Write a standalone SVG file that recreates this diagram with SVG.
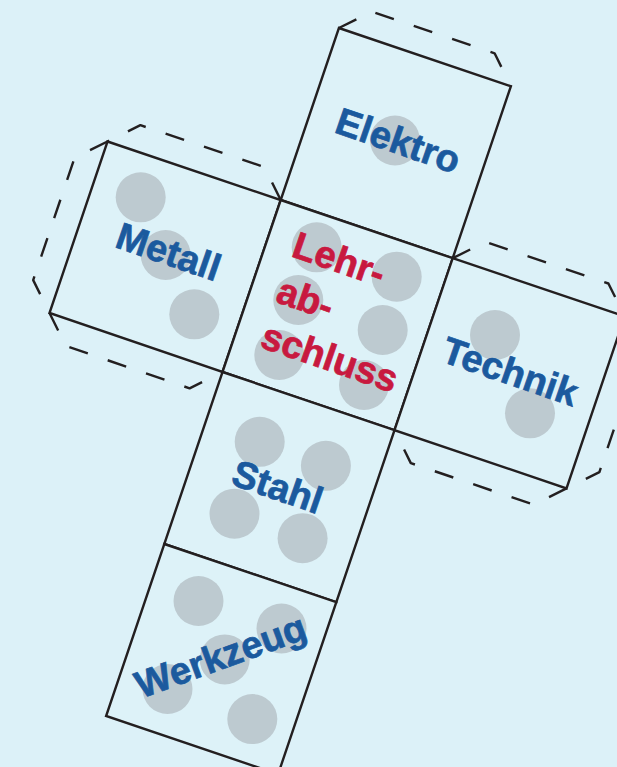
<svg xmlns="http://www.w3.org/2000/svg" width="617" height="767" viewBox="0 0 617 767">
  <style>
    .face { fill: #ddf2f8; stroke: #231f20; stroke-width: 2.4; stroke-linejoin: miter; }
    .flap { fill: none; stroke: #231f20; stroke-width: 2.4; stroke-dasharray: 19.5 21; stroke-linejoin: round; }
    .dot { fill: #bdcad0; }
    .lbl { font-family: "Liberation Sans", Arial, sans-serif; font-weight: bold; font-size: 38px; text-anchor: middle; fill: #1b5a9e; stroke: #1b5a9e; stroke-width: 0.7; }
    .main { font-family: "Liberation Sans", Arial, sans-serif; font-weight: bold; font-size: 38px; fill: #c8193f; stroke: #c8193f; stroke-width: 0.7; }
  </style>
  <rect x="0" y="0" width="617" height="767" fill="#dcf1f8"/>

  <g id="flaps">
    <path class="flap" d="M338.9,28 L371.8,11.7 L494.6,53.3 L510.9,86.2"/>
    <path class="flap" d="M280.7,200 L264.4,167.1 L140.4,125.2 L107.5,141.5"/>
    <path class="flap" d="M107.5,141.5 L74.6,157.8 L33.2,280.1 L49.5,313"/>
    <path class="flap" d="M49.5,313 L65.8,345.9 L189.6,388.3 L222.5,372"/>
    <path class="flap" d="M452.7,258.2 L485.6,241.9 L608.4,283.5 L624.7,316.4"/>
    <path class="flap" d="M624.7,316.4 L641,349.3 L599.4,472.1 L566.5,488.4"/>
    <path class="flap" d="M566.5,488.4 L533.6,504.7 L410.8,463.1 L394.5,430.2"/>
  </g>

  <g id="elektro">
    <polygon class="face" points="338.9,28 510.9,86.2 452.7,258.2 280.7,200"/>
    <circle class="dot" cx="395" cy="140.5" r="25"/>
    <text class="lbl" transform="translate(393.9,153) rotate(19)">Elektro</text>
  </g>

  <g id="metall">
    <polygon class="face" points="107.5,141.5 280.7,200 222.5,372 49.5,313"/>
    <circle class="dot" cx="140.7" cy="197.3" r="25"/>
    <circle class="dot" cx="165.7" cy="255" r="25"/>
    <circle class="dot" cx="194.3" cy="314.3" r="25"/>
    <text class="lbl" transform="translate(164.3,264.2) rotate(19)">Metall</text>
  </g>

  <g id="lehrabschluss">
    <polygon class="face" points="280.7,200 452.7,258.2 394.5,430.2 222.5,372"/>
    <circle class="dot" cx="316.7" cy="247.3" r="25"/>
    <circle class="dot" cx="396.7" cy="276.7" r="25"/>
    <circle class="dot" cx="298.3" cy="300" r="25"/>
    <circle class="dot" cx="382.7" cy="330" r="25"/>
    <circle class="dot" cx="279.3" cy="355" r="25"/>
    <circle class="dot" cx="364" cy="385" r="25"/>
    <text class="main" transform="translate(289.9,256) rotate(19)"><tspan x="0" y="0">Lehr-</tspan><tspan x="0" y="48">ab-</tspan><tspan x="0" y="96">schluss</tspan></text>
  </g>

  <g id="technik">
    <polygon class="face" points="452.7,258.2 624.7,316.4 566.5,488.4 394.5,430.2"/>
    <circle class="dot" cx="495" cy="335" r="25"/>
    <circle class="dot" cx="530" cy="413.3" r="25"/>
    <text class="lbl" transform="translate(506,383.8) rotate(19)">Technik</text>
  </g>

  <g id="stahl">
    <polygon class="face" points="222.5,372 394.5,430.2 336.3,602.2 164.3,544"/>
    <circle class="dot" cx="259.7" cy="441.8" r="25"/>
    <circle class="dot" cx="325.9" cy="465.8" r="25"/>
    <circle class="dot" cx="234.5" cy="513.7" r="25"/>
    <circle class="dot" cx="302.6" cy="538.2" r="25"/>
    <text class="lbl" transform="translate(273.4,499.2) rotate(19)">Stahl</text>
  </g>

  <g id="werkzeug">
    <polygon class="face" points="164.3,544 336.3,602.2 278.1,774.2 106.1,716"/>
    <circle class="dot" cx="198.5" cy="601" r="25"/>
    <circle class="dot" cx="281.5" cy="628.5" r="25"/>
    <circle class="dot" cx="224.7" cy="659.4" r="25"/>
    <circle class="dot" cx="167.5" cy="689" r="25"/>
    <circle class="dot" cx="252.3" cy="719.1" r="25"/>
    <text class="lbl" transform="translate(225.1,668.3) rotate(-20)">Werkzeug</text>
  </g>
</svg>
